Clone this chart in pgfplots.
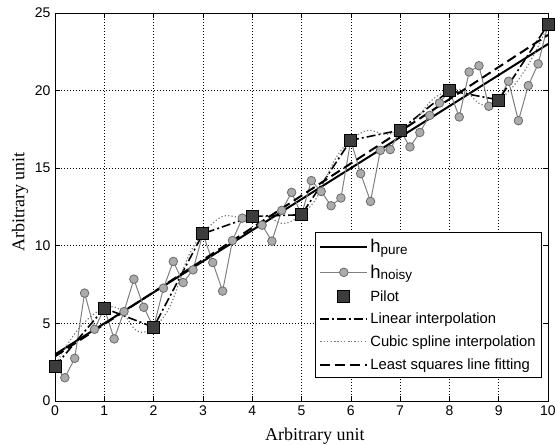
\documentclass[border=0pt]{standalone}
\usepackage{fontspec}
\setmainfont{Liberation Sans}
\newfontfamily\timesfont{Liberation Serif}
\usepackage{pgfplots}
\pgfplotsset{compat=1.18}

\definecolor{noisyline}{HTML}{808080}
\definecolor{noisyfill}{HTML}{ABABAB}
\definecolor{noisyedge}{HTML}{6A6A6A}
\definecolor{pilotfill}{HTML}{3C3C3C}
\definecolor{splinecol}{HTML}{7A7A7A}

\newcommand{\hsub}[1]{{\fontsize{18.5}{18.5}\selectfont h}{\fontsize{13.5}{13.5}\selectfont\raisebox{-1.5pt}{#1}}}

\pgfplotstableread{
x y
0.0 2.23
0.2 1.50
0.4 2.75
0.6 6.95
0.8 4.62
1.0 5.98
1.2 4.00
1.4 5.76
1.6 7.85
1.8 6.04
2.0 4.75
2.2 7.27
2.4 8.99
2.6 7.63
2.8 8.45
3.0 10.78
3.2 8.92
3.4 7.08
3.6 10.34
3.8 11.78
4.0 11.89
4.2 11.33
4.4 10.30
4.6 12.28
4.8 13.44
5.0 12.00
5.2 14.20
5.4 13.50
5.6 12.58
5.8 13.08
6.0 16.80
6.2 14.65
6.4 12.86
6.6 16.15
6.8 16.20
7.0 17.45
7.2 16.37
7.4 17.30
7.6 18.40
7.8 19.20
8.0 20.00
8.2 18.30
8.4 21.20
8.6 21.60
8.8 18.99
9.0 19.40
9.2 20.60
9.4 18.06
9.6 20.32
9.8 21.72
10.0 24.26
}\noisy

\pgfplotstableread{
x y
0 2.23
1 5.98
2 4.75
3 10.78
4 11.89
5 12.00
6 16.80
7 17.45
8 20.00
9 19.40
10 24.26
}\pilot

\begin{document}
\begin{tikzpicture}
\begin{axis}[
    scale only axis,
    width=493pt, height=388pt,
    xmin=0, xmax=10,
    ymin=0, ymax=25,
    xtick={0,1,...,10},
    ytick={0,5,10,15,20,25},
    tick align=inside,
    major tick length=5pt,
    tick style={black, line width=0.6pt},
    axis line style={line width=0.8pt},
    grid=major,
    grid style={black, line width=0.6pt, dash pattern=on 0.6pt off 2.4pt},
    /pgf/number format/assume math mode=true,
    ticklabel style={font=\fontsize{14}{14}\selectfont},
    xticklabel style={yshift=-1pt},
    yticklabel style={xshift=-1pt},
    xlabel={Arbitrary unit},
    ylabel={Arbitrary unit},
    label style={font=\timesfont\fontsize{18}{18}\selectfont},
    xlabel style={at={(axis description cs:0.527,0)}, anchor=base, yshift=-40pt},
    ylabel style={at={(axis description cs:-0.062,0.513)}, anchor=base},
    legend style={
        at={(rel axis cs:0.988,0.059)}, anchor=south east,
        font=\fontsize{14.8}{14.8}\selectfont,
        draw=black, line width=0.8pt,
        inner xsep=4pt, inner ysep=5pt,
        row sep=6.5pt,
        cells={anchor=west},
    },
    legend image code/.code={
        \draw[mark repeat=2, mark phase=2, #1]
            plot coordinates {(0pt,0pt) (23.5pt,0pt) (47pt,0pt)};
    },
]
% pure channel
\addplot[black, line width=2pt] coordinates {(0,3) (10,23)};
\addlegendentry{\hsub{pure}}

% noisy channel
\addplot[noisyline, line width=1pt, mark=*, mark size=4.3pt,
    mark options={fill=noisyfill, draw=noisyedge, line width=0.8pt}] table[x=x, y=y] {\noisy};
\addlegendentry{\hsub{noisy}}

% pilots
\addplot[only marks, mark=square*, mark size=6pt,
    mark options={fill=pilotfill, draw=black, line width=0.8pt}] table[x=x, y=y] {\pilot};
\addlegendentry{Pilot}

% linear interpolation
\addplot[black, line width=1.6pt, dash pattern=on 9pt off 3pt on 2pt off 3pt] table[x=x, y=y] {\pilot};
\addlegendentry{Linear interpolation}

% cubic spline interpolation
\addplot[splinecol, line width=1.2pt, smooth, tension=1, dash pattern=on 1.2pt off 2.2pt] table[x=x, y=y] {\pilot};
\addlegendentry{Cubic spline interpolation}

% least squares line fitting
\addplot[black, line width=2pt, dash pattern=on 10pt off 5pt] coordinates {(0,2.875) (10,23.587)};
\addlegendentry{Least squares line fitting}
\end{axis}
\pgfresetboundingbox
\path[use as bounding box] ([shift={(-55pt,-44pt)}]current axis.south west) rectangle ([shift={(7pt,13pt)}]current axis.north east);
\end{tikzpicture}
\end{document}
